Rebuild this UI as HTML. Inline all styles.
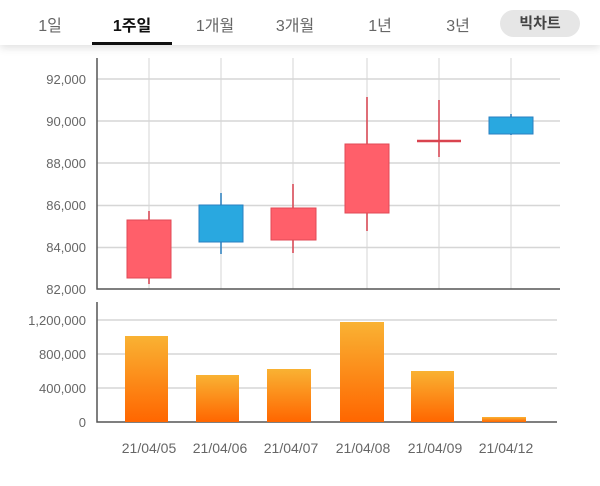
<!DOCTYPE html>
<html><head><meta charset="utf-8"><style>
body{margin:0;width:600px;height:486px;background:#fff;overflow:hidden;font-family:"Liberation Sans","Noto Sans CJK KR",sans-serif}
.hdr{position:absolute;left:0;top:0;width:600px;height:45px;background:#fff;box-shadow:0 3px 8px rgba(0,0,0,0.12)}
.t{position:absolute;top:12px;font-size:16px;color:#666;transform:translateX(-50%)}
</style></head><body>
<div class="hdr">
<span class="t" style="left:50px">1일</span>
<span class="t" style="left:132px;color:#111;font-weight:bold">1주일</span>
<span class="t" style="left:215px">1개월</span>
<span class="t" style="left:295px">3개월</span>
<span class="t" style="left:380px">1년</span>
<span class="t" style="left:458px">3년</span>
<div style="position:absolute;left:500px;top:10px;width:80px;height:27px;border-radius:14px;background:#e6e6e6;color:#444;font-weight:bold;font-size:15px;text-align:center;line-height:27px">빅차트</div>
<div style="position:absolute;left:92px;top:42px;width:80px;height:3px;background:#111"></div>
</div>
<svg width="600" height="486" style="position:absolute;left:0;top:0;z-index:-1" font-family="Liberation Sans, sans-serif" font-size="13" fill="#666">
<defs><linearGradient id="g" x1="0" y1="0" x2="0" y2="1"><stop offset="0" stop-color="#f9b233"/><stop offset="1" stop-color="#ff6600"/></linearGradient></defs>
<g stroke="#e3e3e3" stroke-width="1.5">
<line x1="149" y1="58" x2="149" y2="289"/><line x1="221" y1="58" x2="221" y2="289"/><line x1="293" y1="58" x2="293" y2="289"/><line x1="367" y1="58" x2="367" y2="289"/><line x1="439" y1="58" x2="439" y2="289"/><line x1="511" y1="58" x2="511" y2="289"/>
</g>
<g stroke="#d6d6d6" stroke-width="1.5">
<line x1="97" y1="79" x2="560" y2="79"/><line x1="97" y1="121" x2="560" y2="121"/><line x1="97" y1="163" x2="560" y2="163"/><line x1="97" y1="205.5" x2="560" y2="205.5"/><line x1="97" y1="247.5" x2="560" y2="247.5"/>
<line x1="97" y1="320" x2="557" y2="320"/><line x1="97" y1="354" x2="557" y2="354"/><line x1="97" y1="388" x2="557" y2="388"/>
</g>
<g stroke="#555" stroke-width="1.5">
<polyline fill="none" points="97,58 97,289 560,289"/>
<polyline fill="none" points="97,302 97,422 557,422"/>
</g>
<g text-anchor="end">
<text x="86" y="84">92,000</text><text x="86" y="126">90,000</text><text x="86" y="168">88,000</text><text x="86" y="210">86,000</text><text x="86" y="252">84,000</text><text x="86" y="294">82,000</text>
<text x="86" y="325">1,200,000</text><text x="86" y="359">800,000</text><text x="86" y="393">400,000</text><text x="86" y="427">0</text>
</g>
<g stroke="#d9434f" stroke-width="1.5">
<line x1="149" y1="211" x2="149" y2="284"/><line x1="293" y1="184" x2="293" y2="253"/><line x1="367" y1="97" x2="367" y2="231"/><line x1="439" y1="100" x2="439" y2="157"/>
</g>
<g stroke="#2a7fc0" stroke-width="1.5"><line x1="221" y1="193" x2="221" y2="254"/><line x1="511" y1="114" x2="511" y2="135"/></g>
<g fill="#ff5f6a" stroke="#e04a55">
<rect x="127" y="220" width="44" height="58"/><rect x="271" y="208" width="45" height="32"/><rect x="345" y="144" width="44" height="69"/>
</g>
<line x1="417" y1="141" x2="461" y2="141" stroke="#d9434f" stroke-width="2.5"/>
<g fill="#29a8e0" stroke="#2a7fc0"><rect x="199" y="205" width="44" height="37"/><rect x="489" y="117" width="44" height="17"/></g>
<g fill="url(#g)">
<rect x="125" y="336" width="43" height="86"/><rect x="196" y="375" width="43" height="47"/><rect x="267" y="369" width="44" height="53"/><rect x="340" y="322" width="44" height="100"/><rect x="411" y="371" width="43" height="51"/><rect x="482" y="417" width="44" height="5"/>
</g>
<g text-anchor="middle" font-size="14">
<text x="149" y="453">21/04/05</text><text x="220" y="453">21/04/06</text><text x="291" y="453">21/04/07</text><text x="363" y="453">21/04/08</text><text x="435" y="453">21/04/09</text><text x="506" y="453">21/04/12</text>
</g>
</svg>
</body></html>
